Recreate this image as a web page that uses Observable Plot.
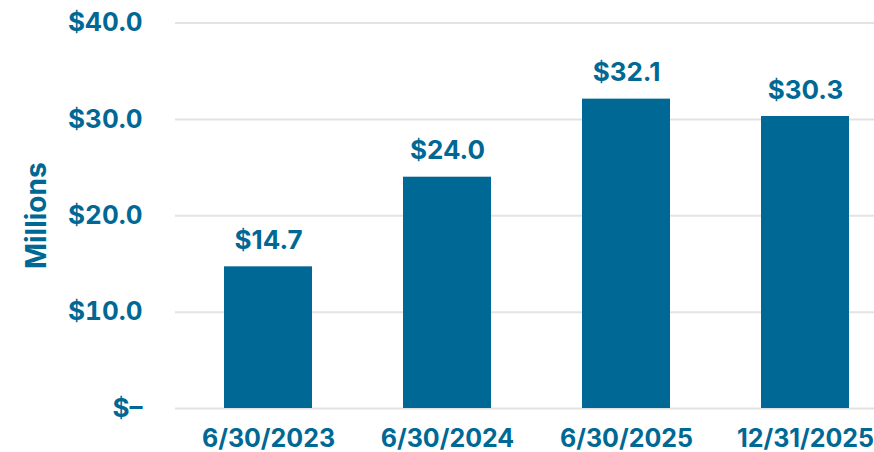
<!DOCTYPE html>
<html>
<head>
<meta charset="utf-8">
<script src="https://cdn.jsdelivr.net/npm/d3@7"></script>
<script src="https://cdn.jsdelivr.net/npm/@observablehq/plot@0.6"></script>
<style>
  html, body { margin: 0; padding: 0; background: #fff; }
  #chart svg { display: block; }
</style>
</head>
<body>
<div id="chart"></div>
<script>
const dates = ["6/30/2023", "6/30/2024", "6/30/2025", "12/31/2025"];
const values = [14.7, 24.0, 32.1, 30.3];
const yTicks = [0, 10, 20, 30, 40];

const data = dates.map((d, i) => ({date: d, value: values[i]}));
const color = "#006894";
const fmt = v => v === 0 ? "$–" : "$" + v.toFixed(1);

const chart = Plot.plot({
  width: 874,
  height: 452,
  marginLeft: 175,
  marginRight: 0,
  marginTop: 22.5,
  marginBottom: 44,
  style: {fontFamily: "Inter, Roboto, sans-serif", fontWeight: 700, color: color, background: "#fff"},
  x: {domain: dates, paddingInner: 0.51, paddingOuter: 0.2, align: 0.655, label: null},
  y: {domain: [0, 40], label: null},
  marks: [
    Plot.ruleY(yTicks, {stroke: "#e3e3e3", strokeWidth: 2}),
    Plot.barY(data, {x: "date", y: "value", fill: color}),
    Plot.text(data, {x: "date", y: "value", text: d => fmt(d.value), dy: -26.3, fill: color, fontSize: 26, fontWeight: 700}),
    Plot.axisY(yTicks, {tickSize: 0, tickPadding: 33, tickFormat: fmt, fontSize: 26, fontWeight: 700, fill: color, label: null}),
    Plot.axisX({tickSize: 0, tickPadding: 21, fontSize: 25, fontWeight: 700, fill: color, label: null}),
    Plot.text(["Millions"], {frameAnchor: "left", textAnchor: "middle", dx: -138, rotate: -90, fontSize: 28, fontWeight: 700, fill: color})
  ]
});
document.getElementById("chart").appendChild(chart);
</script>
</body>
</html>
